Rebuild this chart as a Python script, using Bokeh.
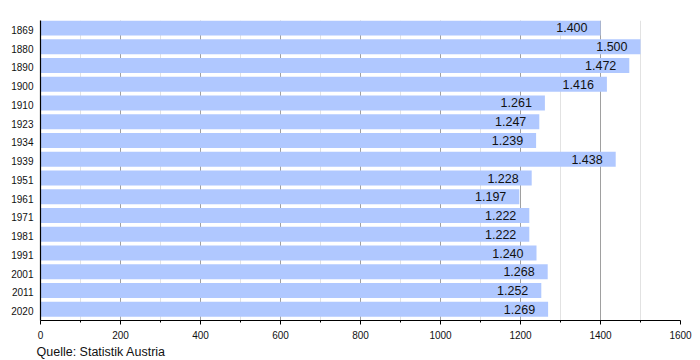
from bokeh.plotting import figure
from bokeh.models import FactorRange, FixedTicker, Title, ColumnDataSource
from bokeh.transform import dodge
from bokeh.core.properties import value
from bokeh.embed import file_html
from bokeh.resources import INLINE

years = ["1869", "1880", "1890", "1900", "1910", "1923", "1934", "1939",
         "1951", "1961", "1971", "1981", "1991", "2001", "2011", "2020"]
population = [1400, 1500, 1472, 1416, 1261, 1247, 1239, 1438,
              1228, 1197, 1222, 1222, 1240, 1268, 1252, 1269]
x_ticks = [0, 200, 400, 600, 800, 1000, 1200, 1400, 1600]
x_minor = [100, 300, 500, 700, 900, 1100, 1300, 1500]
source_note = "Quelle: Statistik Austria"

labels = ["{:,}".format(v).replace(",", ".") for v in population]
src = ColumnDataSource(dict(year=years, pop=population, label=labels))

FONT = "Liberation Sans"

p = figure(width=700, height=360, output_backend="svg", toolbar_location=None,
           y_range=FactorRange(factors=list(reversed(years)), range_padding=0),
           x_range=(0, 1600),
           min_border_left=40, min_border_right=20, min_border_top=20, min_border_bottom=0)
p.outline_line_color = None
p.background_fill_color = "white"

p.hbar(y=dodge("year", 0.1, range=p.y_range), right="pop", left=0, height=0.8,
       source=src, color="#b0c8ff", line_color=None)

p.text(x="pop", y=dodge("year", 0.1, range=p.y_range), text="label", source=src,
       x_offset=-13, text_align="right", text_baseline="middle",
       text_font=value(FONT), text_font_size="12.5px", text_color="#111111")

p.xaxis.ticker = FixedTicker(ticks=x_ticks, minor_ticks=x_minor)
p.xgrid.ticker = p.xaxis.ticker
p.xgrid.grid_line_color = "#a0a0a0"
p.xgrid.minor_grid_line_color = "#e2e2e2"
p.ygrid.grid_line_color = None
p.xgrid.level = "underlay"

for ax in (p.xaxis, p.yaxis):
    ax.axis_line_color = "black"
    ax.axis_line_width = 1.2
    ax.major_label_text_font = FONT
    ax.major_label_text_font_size = "10px"
    ax.major_label_text_color = "#111111"
    ax.major_tick_in = 0
    ax.minor_tick_in = 0

p.xaxis.major_tick_out = 4
p.xaxis.minor_tick_out = 2
p.xaxis.major_tick_line_color = "black"
p.xaxis.minor_tick_line_color = "black"
p.xaxis.major_label_standoff = 6
p.yaxis.major_tick_out = 0
p.yaxis.minor_tick_out = 0
p.yaxis.major_tick_line_color = None
p.yaxis.major_label_standoff = 7

p.add_layout(Title(text=source_note, align="left", offset=-4, standoff=3,
                   text_font=FONT, text_font_size="12.5px", text_font_style="normal",
                   text_color="#111111"), "below")

open("out.html", "w").write(file_html(p, INLINE))
